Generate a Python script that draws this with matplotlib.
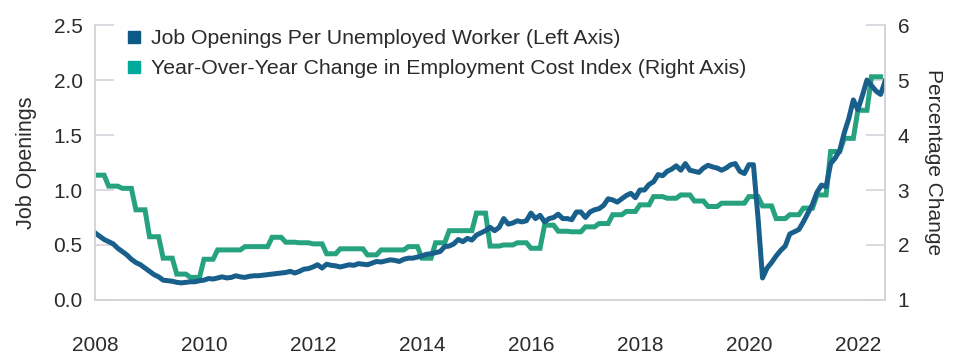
import numpy as np
import matplotlib
matplotlib.use("Agg")
import matplotlib.pyplot as plt
from matplotlib.lines import Line2D

plt.rcParams['font.family'] = ['Liberation Sans', 'DejaVu Sans']

# job openings per unemployed worker, monthly Jan 2008 - Jul 2022
openings = [
    0.61, 0.58, 0.55, 0.53, 0.51, 0.47, 0.44, 0.41, 0.37, 0.34, 0.32, 0.29,   # 2008
    0.26, 0.23, 0.21, 0.18, 0.175, 0.17, 0.16, 0.155, 0.16, 0.165, 0.165, 0.175,  # 2009
    0.18, 0.195, 0.19, 0.20, 0.21, 0.20, 0.205, 0.22, 0.21, 0.205, 0.215, 0.22,  # 2010
    0.22, 0.225, 0.23, 0.235, 0.24, 0.245, 0.25, 0.26, 0.245, 0.26, 0.28, 0.285,  # 2011
    0.30, 0.32, 0.29, 0.325, 0.315, 0.31, 0.30, 0.31, 0.32, 0.315, 0.33, 0.325,  # 2012
    0.32, 0.335, 0.35, 0.345, 0.355, 0.365, 0.36, 0.35, 0.37, 0.38, 0.38, 0.39,  # 2013
    0.40, 0.415, 0.42, 0.43, 0.44, 0.485, 0.49, 0.51, 0.55, 0.53, 0.56, 0.545,  # 2014
    0.59, 0.61, 0.63, 0.66, 0.63, 0.66, 0.74, 0.69, 0.70, 0.72, 0.71, 0.72,   # 2015
    0.79, 0.74, 0.77, 0.71, 0.74, 0.75, 0.78, 0.74, 0.74, 0.73, 0.80, 0.80,   # 2016
    0.75, 0.80, 0.82, 0.83, 0.86, 0.92, 0.91, 0.89, 0.92, 0.95, 0.97, 0.93,   # 2017
    1.00, 1.00, 1.05, 1.075, 1.14, 1.13, 1.17, 1.19, 1.22, 1.18, 1.24, 1.18,  # 2018
    1.17, 1.16, 1.20, 1.225, 1.21, 1.20, 1.18, 1.20, 1.23, 1.24, 1.17, 1.15,  # 2019
    1.23, 1.23, 0.75, 0.20, 0.29, 0.34, 0.40, 0.45, 0.49, 0.60, 0.62, 0.64,   # 2020
    0.71, 0.79, 0.87, 0.98, 1.045, 1.03, 1.24, 1.29, 1.36, 1.52, 1.65, 1.82,  # 2021
    1.73, 1.86, 2.00, 1.95, 1.90, 1.87, 1.99,                                  # 2022
]

# employment cost index, year-over-year % change, quarterly Q1 2008 - Q2 2022
eci_q = [
    3.27, 3.07, 3.03, 2.64,
    2.15, 1.76, 1.47, 1.41,
    1.74, 1.91, 1.91, 1.97,
    1.97, 2.14, 2.05, 2.04,
    2.02, 1.84, 1.93, 1.93,
    1.82, 1.91, 1.91, 1.97,
    1.76, 2.04, 2.26, 2.26,
    2.58, 1.98, 2.00, 2.04,
    1.94, 2.36, 2.25, 2.24,
    2.33, 2.39, 2.55, 2.61,
    2.73, 2.88, 2.85, 2.91,
    2.80, 2.70, 2.76, 2.76,
    2.88, 2.71, 2.48, 2.55,
    2.67, 2.91, 3.70, 3.94,
    4.45, 5.06,
]

eci = np.repeat(eci_q, 3)
x_open = 2008 + np.arange(len(openings)) / 12
x_eci = 2008 + np.arange(len(eci)) / 12

blue = '#195f8c'
green = '#27a27f'
grey = '#d3d3da'
txt = '#2b2b2b'

fig = plt.figure(figsize=(9.6, 3.64), dpi=100)
ax = fig.add_axes([0.099, 0.176, 0.823, 0.755])
ax2 = ax.twinx()

ax2.plot(x_eci, eci, color=green, lw=3.6, solid_joinstyle='miter')
ax.plot(x_open, openings, color=blue, lw=3.6, solid_joinstyle='round')

# blue line on top of the green one
ax.set_zorder(ax2.get_zorder() + 1)
ax.patch.set_visible(False)

ax.set_xlim(2008, x_open[-1])
ax.set_ylim(0, 2.5)
ax2.set_ylim(1, 6)

ax.set_xticks(range(2008, 2023, 2))
ax.set_yticks(np.arange(0, 2.51, 0.5))
ax.set_yticklabels([f'{v:.1f}' for v in np.arange(0, 2.51, 0.5)])
ax2.set_yticks(range(1, 7))

for a in (ax, ax2):
    for s in a.spines.values():
        s.set_color(grey)
        s.set_linewidth(1.2)
    a.spines['top'].set_visible(False)

ax.tick_params(axis='y', direction='in', length=14, width=1.2, color=grey,
               labelsize=15, labelcolor=txt, pad=9)
ax2.tick_params(axis='y', direction='in', length=14, width=1.2, color=grey,
                labelsize=15, labelcolor=txt, pad=9)
ax.tick_params(axis='x', length=0, labelsize=15, labelcolor=txt, pad=26)

ax.set_ylabel('Job Openings', fontsize=15.5, color=txt, labelpad=12)
ax2.set_ylabel('Percentage Change', fontsize=15, color=txt, rotation=270,
               labelpad=24)

handles = [
    Line2D([], [], ls='', marker='s', markersize=8, color='#0e5a86'),
    Line2D([], [], ls='', marker='s', markersize=8, color='#00ab9c'),
]
labels = ['Job Openings Per Unemployed Worker (Left Axis)',
          'Year-Over-Year Change in Employment Cost Index (Right Axis)']
ax.legend(handles, labels, loc='upper left', bbox_to_anchor=(0.031, 1.015),
          frameon=False, fontsize=15.3, handlelength=0.6, handletextpad=0.5,
          labelspacing=0.5, borderaxespad=0, labelcolor=txt)

fig.savefig('out.png', dpi=100)
